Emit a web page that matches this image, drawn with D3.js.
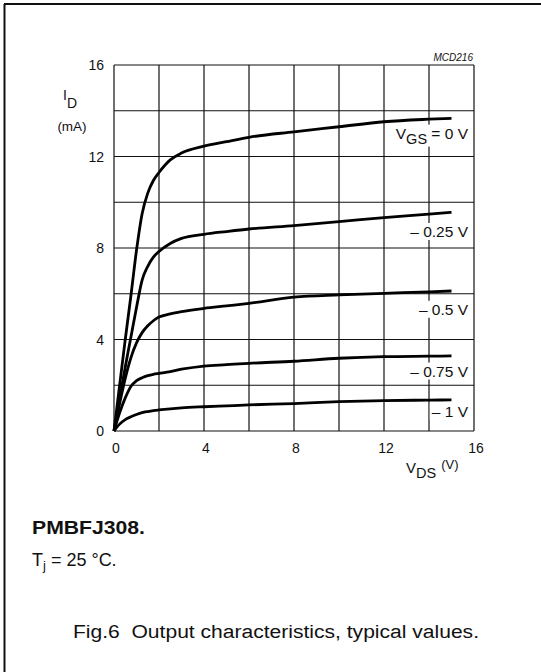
<!DOCTYPE html>
<html>
<head>
<meta charset="utf-8">
<script src="https://cdn.jsdelivr.net/npm/d3@7"></script>
<style>
  body { margin: 0; background: #fff; }
  svg { display: block; font-family: Arial, "Liberation Sans", sans-serif; }
</style>
</head>
<body>
<div class="chart"></div>
<script>
// values
const vds = [0, 0.25, 0.5, 0.75, 1, 1.25, 1.5, 1.75, 2, 2.5, 3, 4, 5, 6, 8, 10, 12, 14, 15];
const idVgs0    = [0, 2.0, 4.0, 5.9, 7.9, 9.5, 10.4, 10.95, 11.3, 11.85, 12.15, 12.45, 12.65, 12.84, 13.08, 13.3, 13.52, 13.63, 13.67];
const idVgs025  = [0, 1.4, 2.8, 4.1, 5.4, 6.6, 7.2, 7.6, 7.85, 8.2, 8.42, 8.6, 8.72, 8.83, 8.98, 9.15, 9.33, 9.48, 9.56];
const idVgs05   = [0, 1.2, 2.3, 3.2, 3.85, 4.3, 4.6, 4.82, 4.98, 5.12, 5.22, 5.36, 5.47, 5.58, 5.85, 5.95, 6.02, 6.08, 6.12];
const idVgs075  = [0, 0.8, 1.45, 1.95, 2.2, 2.33, 2.42, 2.48, 2.52, 2.6, 2.7, 2.84, 2.9, 2.96, 3.05, 3.18, 3.25, 3.27, 3.28];
const idVgs1    = [0, 0.3, 0.5, 0.62, 0.72, 0.8, 0.85, 0.89, 0.92, 0.97, 1.01, 1.06, 1.1, 1.14, 1.2, 1.28, 1.33, 1.35, 1.36];
const curveLabels = ['0 V', '\u2013 0.25 V', '\u2013 0.5 V', '\u2013 0.75 V', '\u2013 1 V'];
const labelY = [13.0, 8.7, 5.3, 2.6, 0.85]; // mA, where each label sits
const xTicks = [0, 4, 8, 12, 16];
const yTicks = [0, 4, 8, 12, 16];
const gridStep = 2;

const width = 541, height = 672;
const svg = d3.select('.chart').append('svg')
  .attr('width', width)
  .attr('height', height)
  .style('fill', '#111');

// page frame (top and left edge of the scan)
svg.append('line').attr('x1', 4).attr('y1', 4).attr('x2', width).attr('y2', 4)
  .style('stroke', '#111').style('stroke-width', 2);
svg.append('line').attr('x1', 4.5).attr('y1', 4).attr('x2', 4.5).attr('y2', height)
  .style('stroke', '#111').style('stroke-width', 2);

const x = d3.scaleLinear().domain([0, 16]).range([114, 474]);
const y = d3.scaleLinear().domain([0, 16]).range([431, 65]);

// grid
const g = svg.append('g');
for (let v = 0; v <= 16; v += gridStep) {
  g.append('line')
    .attr('x1', x(v)).attr('x2', x(v))
    .attr('y1', y(0)).attr('y2', y(16))
    .style('stroke', '#111').style('stroke-width', 1.2);
  g.append('line')
    .attr('x1', x(0)).attr('x2', x(16))
    .attr('y1', y(v)).attr('y2', y(v))
    .style('stroke', '#111').style('stroke-width', 1.2);
}

// tick labels
svg.selectAll('.ytick').data(yTicks).enter().append('text')
  .attr('x', 104)
  .attr('y', d => y(d) + 5)
  .attr('text-anchor', 'end')
  .attr('font-size', 14)
  .text(d => d);
svg.selectAll('.xtick').data(xTicks).enter().append('text')
  .attr('x', d => x(d) + 2)
  .attr('y', 453)
  .attr('text-anchor', 'middle')
  .attr('font-size', 14)
  .text(d => d);

// curves
const series = [idVgs0, idVgs025, idVgs05, idVgs075, idVgs1];
const line = d3.line()
  .x(d => x(d[0]))
  .y(d => y(d[1]))
  .curve(d3.curveMonotoneX);
series.forEach(s => {
  svg.append('path')
    .datum(vds.map((v, i) => [v, s[i]]))
    .attr('d', line)
    .style('fill', 'none')
    .style('stroke', '#000')
    .style('stroke-width', 2.8)
    .style('stroke-linejoin', 'round');
});

// curve labels with white boxes
curveLabels.forEach((t, i) => {
  const ty = y(labelY[i]) + 5;
  const lab = svg.append('g');
  const box = lab.append('rect').style('fill', '#fff');
  const txt = lab.append('text')
    .attr('x', 468)
    .attr('y', ty)
    .attr('text-anchor', 'end')
    .attr('font-size', 15.5);
  if (i === 0) {
    txt.append('tspan').text('V');
    txt.append('tspan').attr('dy', 5).attr('font-size', 14.5).text('GS');
    txt.append('tspan').attr('dy', -5).text(' = ' + t);
  } else {
    txt.text(t);
  }
  const bb = txt.node().getBBox();
  box.attr('x', bb.x - 2).attr('y', bb.y).attr('width', bb.width + 3).attr('height', bb.height);
});

// axis titles
const yt = svg.append('text').attr('x', 63).attr('y', 100).attr('font-size', 14);
yt.append('tspan').text('I');
yt.append('tspan').attr('dy', 8).text('D');
svg.append('text').attr('x', 72).attr('y', 131).attr('text-anchor', 'middle')
  .attr('font-size', 13.5).text('(mA)');

const xt = svg.append('text').attr('x', 406).attr('y', 473).attr('font-size', 15);
xt.append('tspan').text('V');
xt.append('tspan').attr('dy', 5).attr('font-size', 14.5).text('DS');
xt.append('tspan').attr('dy', -9).attr('dx', 5).attr('font-size', 13).text('(V)');

svg.append('text')
  .attr('x', 473).attr('y', 61)
  .attr('text-anchor', 'end')
  .attr('font-size', 10)
  .attr('font-style', 'italic')
  .text('MCD216');

// notes under the chart
svg.append('text').attr('x', 32).attr('y', 534)
  .attr('font-size', 18).attr('font-weight', 'bold')
  .attr('textLength', 113).attr('lengthAdjust', 'spacingAndGlyphs')
  .text('PMBFJ308.');

const tj = svg.append('text').attr('x', 32).attr('y', 566).attr('font-size', 18);
tj.append('tspan').text('T');
tj.append('tspan').attr('dy', 4).attr('font-size', 13).text('j');
tj.append('tspan').attr('dy', -4).text(' = 25 \u00b0C.');

svg.append('text').attr('x', 73).attr('y', 638)
  .attr('font-size', 18)
  .style('white-space', 'pre')
  .attr('textLength', 406).attr('lengthAdjust', 'spacingAndGlyphs')
  .text('Fig.6  Output characteristics, typical values.');
</script>
</body>
</html>
